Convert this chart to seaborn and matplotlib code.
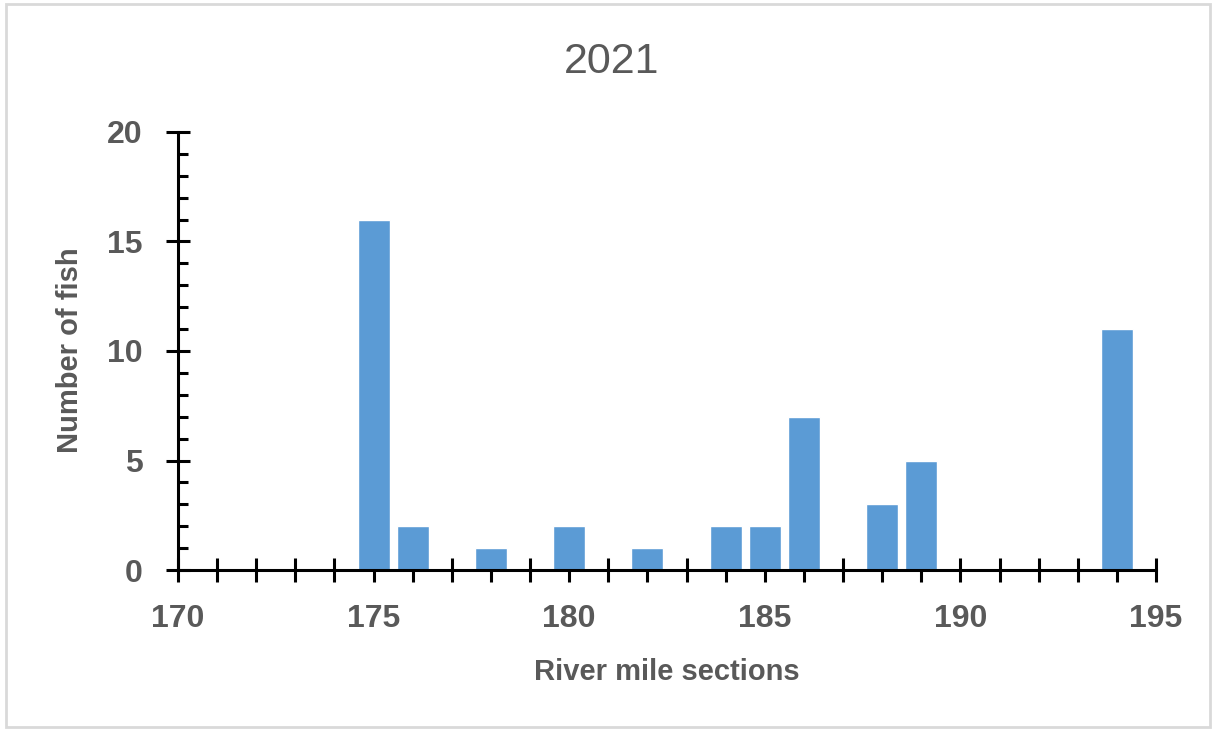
import matplotlib
matplotlib.use("Agg")
import matplotlib.pyplot as plt
import seaborn as sns
from matplotlib.patches import Rectangle
from matplotlib.ticker import MultipleLocator

# data
river_miles = [175, 176, 178, 180, 182, 184, 185, 186, 188, 189, 194]
fish_counts = [16, 2, 1, 2, 1, 2, 2, 7, 3, 5, 11]

TEXT = "#595959"
BAR = "#5B9BD5"

sns.set_style("white")
plt.rcParams["font.family"] = ["Liberation Sans", "DejaVu Sans"]

fig = plt.figure(figsize=(12.14, 7.31), dpi=100)
ax = fig.add_axes([178 / 1214, 1 - 570 / 731, (1156 - 178) / 1214, (570 - 132) / 731])

sns.barplot(x=river_miles, y=fish_counts, native_scale=True, width=0.82,
            color=BAR, saturation=1, ax=ax)

ax.set_xlim(170, 195)
ax.set_ylim(0, 20)
ax.xaxis.set_major_locator(MultipleLocator(5))
ax.xaxis.set_minor_locator(MultipleLocator(1))
ax.yaxis.set_major_locator(MultipleLocator(5))
ax.yaxis.set_minor_locator(MultipleLocator(1))

for side in ["top", "right"]:
    ax.spines[side].set_visible(False)
for side in ["left", "bottom"]:
    ax.spines[side].set_color("black")
    ax.spines[side].set_linewidth(2.2)

ax.tick_params(bottom=True, left=True, which="both")
ax.tick_params(axis="x", which="both", direction="inout", length=17, width=2.2,
               color="black", pad=16)
ax.tick_params(axis="y", which="major", direction="inout", length=17, width=2.2,
               color="black", pad=17)
ax.tick_params(axis="y", which="minor", direction="in", length=7, width=2.2,
               color="black")
ax.tick_params(axis="both", which="major", labelsize=23, labelcolor=TEXT)
for lab in ax.get_xticklabels() + ax.get_yticklabels():
    lab.set_fontweight("bold")

ax.set_xlabel("")
ax.set_ylabel("")
fig.text(667 / 1214, 1 - 672 / 731, "River mile sections", ha="center", va="center",
         fontsize=21, fontweight="bold", color=TEXT)
fig.text(70 / 1214, 1 - 350 / 731, "Number of fish", ha="center", va="center",
         rotation=90, fontsize=21, fontweight="bold", color=TEXT)
fig.text(612 / 1214, 1 - 62 / 731, "2021", ha="center", va="center",
         fontsize=31, color=TEXT)

fig.patches.append(Rectangle((6 / 1214, 4 / 731), 1204 / 1214, 723 / 731,
                             transform=fig.transFigure, fill=False,
                             edgecolor="#d9d9d9", linewidth=2))

fig.savefig("out.png", dpi=100)
